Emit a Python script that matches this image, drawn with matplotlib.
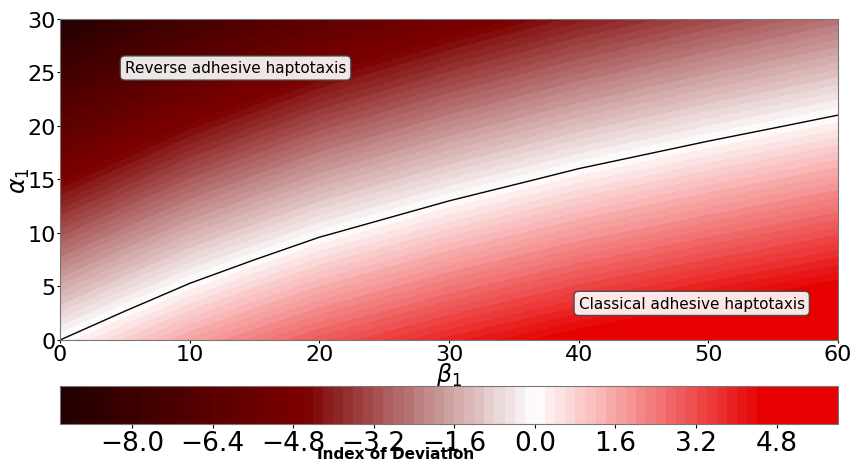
import numpy as np
import matplotlib
matplotlib.use("Agg")
import matplotlib.pyplot as plt
from matplotlib.colors import LinearSegmentedColormap

# grid
beta1 = [0, 5, 10, 15, 20, 30, 40, 50, 60]
alpha1 = [0, 5, 10, 15, 20, 25, 30]

# index of deviation, one row per alpha1 value, one column per beta1 value
idx_dev = [
    [0.00, 0.84, 1.64, 2.30, 2.92, 3.90, 4.72, 5.39, 6.01],
    [-1.57, -0.72, 0.09, 0.77, 1.40, 2.40, 3.25, 3.94, 4.58],
    [-3.13, -2.27, -1.45, -0.77, -0.12, 0.90, 1.77, 2.49, 3.15],
    [-4.70, -3.83, -3.00, -2.30, -1.64, -0.60, 0.30, 1.04, 1.72],
    [-6.26, -5.38, -4.54, -3.84, -3.16, -2.10, -1.18, -0.41, 0.29],
    [-7.83, -6.94, -6.09, -5.37, -4.68, -3.60, -2.66, -1.86, -1.14],
    [-9.39, -8.49, -7.63, -6.91, -6.20, -5.10, -4.13, -3.31, -2.57],
]

cbar_ticks = [-8.0, -6.4, -4.8, -3.2, -1.6, 0.0, 1.6, 3.2, 4.8]

B, A = np.meshgrid(beta1, alpha1)
Z = np.array(idx_dev)

zmin, zmax = -9.43, 6.02
def pos(v):
    return (v - zmin) / (zmax - zmin)

cmap = LinearSegmentedColormap.from_list("dev", [
    (0.0, "#220000"),
    (pos(-4.6), "#7c0000"),
    (pos(0.0), "#ffffff"),
    (pos(4.55), "#e60000"),
    (1.0, "#e60000"),
])

fig = plt.figure(figsize=(8.55, 4.64), dpi=100)
ax = fig.add_axes([0.0702, 0.2651, 0.9099, 0.6918])
cax = fig.add_axes([0.0702, 0.0841, 0.9099, 0.0819])

levels = np.linspace(zmin, zmax, 78)
cf = ax.contourf(B, A, Z, levels=levels, cmap=cmap, vmin=zmin, vmax=zmax)
ax.contour(B, A, Z, levels=[0.0], colors="black", linewidths=1)

ax.set_xlim(0, 60)
ax.set_ylim(0, 30)
ax.set_xticks([0, 10, 20, 30, 40, 50, 60])
ax.set_yticks([0, 5, 10, 15, 20, 25, 30])
ax.tick_params(labelsize=16, length=2, pad=1)
ax.set_xlabel(r"$\beta_1$", fontsize=17, labelpad=-3)
ax.set_ylabel(r"$\alpha_1$", fontsize=17, labelpad=-3)
for s in ax.spines.values():
    s.set_color("#777777")

box = dict(boxstyle="round", facecolor="white", edgecolor="#444444", alpha=0.9)
ax.text(5, 25, "Reverse adhesive haptotaxis", fontsize=11, bbox=box)
ax.text(40, 3, "Classical adhesive haptotaxis", fontsize=11, bbox=box)

cb = fig.colorbar(cf, cax=cax, orientation="horizontal")
cb.set_ticks(cbar_ticks)
cb.set_ticklabels([("%.1f" % t).replace("-", "\u2212") for t in cbar_ticks])
cb.ax.tick_params(labelsize=19, length=3, pad=1)
cb.outline.set_edgecolor("#777777")

fig.text(396 / 855, 1 - 455 / 464, "Index of Deviation", fontsize=11,
         fontweight="bold", ha="center", va="center")

fig.savefig("out.png", dpi=100)
